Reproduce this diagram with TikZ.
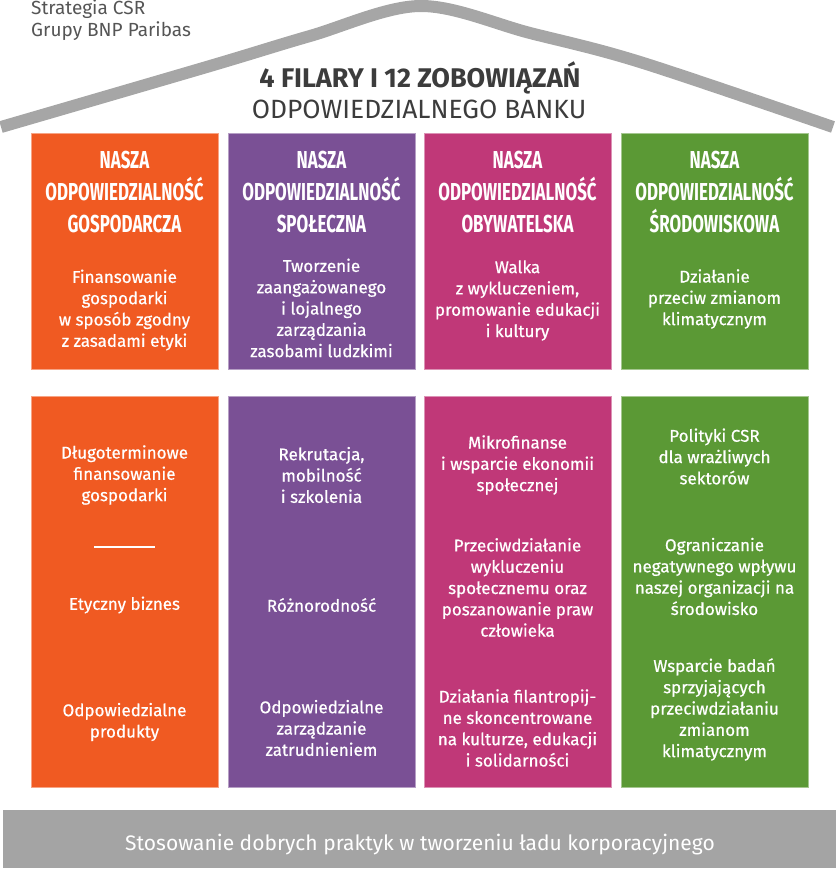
\documentclass[tikz,border=0pt]{standalone}
\usepackage{fontspec}
\setmainfont{Fira Sans}
\newfontfamily\headfont[FakeStretch=0.69]{Fira Sans}
\newfontfamily\bodyfont[FakeBold=0.6]{Fira Sans}
\definecolor{corange}{HTML}{F05A22}
\definecolor{cpurple}{HTML}{7A5095}
\definecolor{cmagenta}{HTML}{C03878}
\definecolor{cgreen}{HTML}{5B9935}
\definecolor{cbar}{HTML}{A4A4A4}
\definecolor{croof}{HTML}{A6A6A6}
\definecolor{ctitle}{HTML}{3C3C3C}
\definecolor{csub}{HTML}{555555}
\begin{document}
\begin{tikzpicture}[x=1pt,y=-1pt,
  pillar/.style={draw=#1!55!white, line width=0.6pt, fill=#1, inner sep=0pt, outer sep=0pt, minimum width=187pt},
  headtxt/.style={text=white, align=center, inner sep=0pt, font=\headfont\bfseries\fontsize{24.5}{32}\selectfont},
  bodytxt/.style={text=white, align=center, inner sep=0pt, font=\bodyfont\fontsize{17}{21.3}\selectfont},
  roof/.style={draw=croof, line width=12pt, line cap=butt}]
\useasboundingbox (0,0) rectangle (839,872);
% roof
\draw[roof] plot[smooth, tension=0.55] coordinates {(1,127) (210,66) (310,36) (420,6) (530,33) (640,62) (833,127)};
% small texts
\node[anchor=base west, text=csub, inner sep=0pt, font=\fontsize{19}{22}\selectfont] (s1) at (31,15) {Strategia CSR};
\node[anchor=base west, text=csub, inner sep=0pt, font=\fontsize{19}{22}\selectfont] (s2) at (31,37) {Grupy BNP Paribas};
\node[anchor=base, text=ctitle, inner sep=0pt, font=\bfseries\fontsize{27}{30}\selectfont] (title) at (420,88) {4 FILARY I 12 ZOBOWIĄZAŃ};
\node[anchor=base, text=ctitle, inner sep=0pt, font=\fontsize{26.4}{30}\selectfont] (subtitle) at (419,118) {ODPOWIEDZIALNEGO BANKU};
% pillars top
\node[pillar=corange, minimum height=236pt] (t1) at (124.5,251) {};
\node[pillar=cpurple, minimum height=236pt] (t2) at (321.5,251) {};
\node[pillar=cmagenta, minimum height=236pt] (t3) at (517.5,251) {};
\node[pillar=cgreen, minimum height=236pt] (t4) at (714.5,251) {};
% pillars bottom
\node[pillar=corange, minimum height=391pt] (b1) at (124.5,591.5) {};
\node[pillar=cpurple, minimum height=391pt] (b2) at (321.5,591.5) {};
\node[pillar=cmagenta, minimum height=391pt] (b3) at (517.5,591.5) {};
\node[pillar=cgreen, minimum height=391pt] (b4) at (714.5,591.5) {};
% headers
\node[headtxt] (h1) at (124.5,192) {NASZA\\ODPOWIEDZIALNOŚĆ\\GOSPODARCZA};
\node[headtxt] (h2) at (321.5,192) {NASZA\\ODPOWIEDZIALNOŚĆ\\SPOŁECZNA};
\node[headtxt] (h3) at (517.5,192) {NASZA\\ODPOWIEDZIALNOŚĆ\\OBYWATELSKA};
\node[headtxt] (h4) at (714.5,192) {NASZA\\ODPOWIEDZIALNOŚĆ\\ŚRODOWISKOWA};
% top bodies
\node[bodytxt] (tb1) at (124.5,310) {Finansowanie\\gospodarki\\w sposób zgodny\\z zasadami etyki};
\node[bodytxt] (tb2) at (321.5,308) {Tworzenie\\zaangażowanego\\i lojalnego\\zarządzania\\zasobami ludzkimi};
\node[bodytxt] (tb3) at (517.5,300.5) {Walka\\z wykluczeniem,\\promowanie edukacji\\i kultury};
\node[bodytxt] (tb4) at (714.5,299) {Działanie\\przeciw zmianom\\klimatycznym};
% bottom col 1
\node[bodytxt] (a1) at (124.5,475) {Długoterminowe\\finansowanie\\gospodarki};
\coordinate (sepl) at (94,547);
\coordinate (sepr) at (155,547);
\draw[white, line width=1.5pt] (sepl) -- (sepr);
\node[bodytxt] (a2) at (124.5,605) {Etyczny biznes};
\node[bodytxt] (a3) at (124.5,722) {Odpowiedzialne\\produkty};
% bottom col 2
\node[bodytxt] (c1) at (321.5,475) {Rekrutacja,\\mobilność\\i szkolenia};
\node[bodytxt] (c2) at (321.5,605) {Różnorodność};
\node[bodytxt] (c3) at (321.5,728) {Odpowiedzialne\\zarządzanie\\zatrudnieniem};
% bottom col 3
\node[bodytxt] (d1) at (517.5,465) {Mikrofinanse\\i wsparcie ekonomii\\społecznej};
\node[bodytxt] (d2) at (517.5,587.5) {Przeciwdziałanie\\wykluczeniu\\społecznemu oraz\\poszanowanie praw\\człowieka};
\node[bodytxt] (d3) at (517.5,728) {Działania filantropij-\\ne skoncentrowane\\na kulturze, edukacji\\i solidarności};
% bottom col 4
\node[bodytxt] (e1) at (714.5,456.5) {Polityki CSR\\dla wrażliwych\\sektorów};
\node[bodytxt] (e2) at (714.5,576.5) {Ograniczanie\\negatywnego wpływu\\naszej organizacji na\\środowisko};
\node[bodytxt] (e3) at (714.5,709.5) {Wsparcie badań\\sprzyjających\\przeciwdziałaniu\\zmianom\\klimatycznym};
% base bar
\node[fill=cbar, inner sep=0pt, minimum width=833pt, minimum height=58pt] (bar) at (419.5,839) {};
\node[anchor=base, text=white, inner sep=0pt, font=\fontsize{21}{24}\selectfont] (bartxt) at (420,850) {Stosowanie dobrych praktyk w tworzeniu ładu korporacyjnego};
\end{tikzpicture}
\end{document}
